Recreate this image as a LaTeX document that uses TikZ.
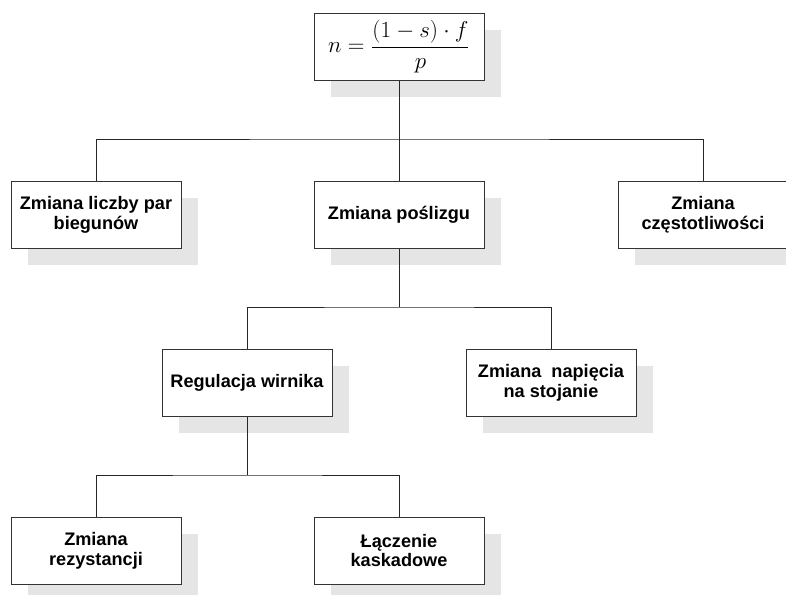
\documentclass[tikz,border=0pt]{standalone}
\usepackage{fontspec}
\setmainfont{Liberation Sans}
\usetikzlibrary{shadows}

\tikzset{
  box/.style={draw=black!80, line width=0.75pt, fill=white,
    minimum width=127.5pt, minimum height=50.25pt, inner sep=2pt,
    align=center, font=\bfseries\fontsize{13.6}{14.8}\selectfont,
    drop shadow={shadow xshift=12.75pt, shadow yshift=-12.75pt,
      fill=black!10, opacity=1}},
  link/.style={draw=black!85, line width=0.75pt}
}

\begin{document}
\begin{tikzpicture}[x=0.75pt, y=-0.75pt]
  % Page frame (pixel units of the reference)
  \useasboundingbox (0,0) rectangle (786,594);
  \clip (0,0) rectangle (786,594);

  % Top: formula
  \node[box] (speed) at (399,46.5) {\fontsize{17}{17}\selectfont$\displaystyle n=\frac{(1-s)\cdot f}{p}$};

  % First level
  \node[box] (poles) at (96,214.5)  {Zmiana liczby par\\biegunów};
  \node[box] (slip)  at (399,214.5) {Zmiana poślizgu};
  \node[box] (freq)  at (703,214.5) {Zmiana\\częstotliwości};

  % Second level
  \node[box] (rotor)   at (247,382.5) {Regulacja wirnika};
  \node[box] (voltage) at (551,382.5) {Zmiana~~napięcia\\na stojanie};

  % Third level
  \node[box] (resist)  at (96,550.5)  {Zmiana\\rezystancji};
  \node[box] (cascade) at (399,550.5) {Łączenie\\kaskadowe};

  % Branch points
  \coordinate (bus1) at (399,139);
  \coordinate (bus2) at (399,307);
  \coordinate (bus3) at (247,475);

  % Connectors
  \draw[link] (speed.south) -- (slip.north);
  \draw[link] (poles.north) |- (bus1) -| (freq.north);

  \draw[link] (slip.south) -- (bus2);
  \draw[link] (rotor.north) |- (bus2) -| (voltage.north);

  \draw[link] (rotor.south) -- (bus3);
  \draw[link] (resist.north) |- (bus3) -| (cascade.north);

\end{tikzpicture}
\end{document}
